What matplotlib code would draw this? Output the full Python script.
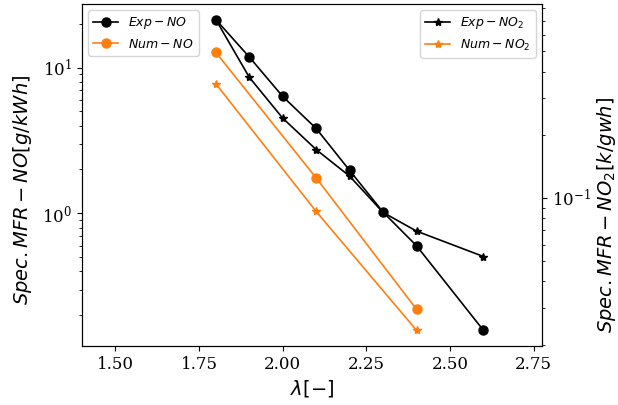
import matplotlib
matplotlib.use('Agg')
import matplotlib.pyplot as plt

plt.rcParams['font.family'] = 'serif'
plt.rcParams['mathtext.fontset'] = 'dejavusans'

# lambda values
lam_exp = [1.8, 1.9, 2.0, 2.1, 2.2, 2.3, 2.4, 2.6]
lam_num = [1.8, 2.1, 2.4]

# NO [g/kWh]
exp_no = [21.3, 11.8, 6.33, 3.82, 1.97, 1.02, 0.60, 0.158]
num_no = [12.7, 1.75, 0.22]

# NO2
exp_no2 = [0.708, 0.376, 0.240, 0.170, 0.127, 0.0853, 0.0695, 0.0526]
num_no2 = [0.350, 0.0862, 0.0234]

fig = plt.figure(figsize=(6.18, 4.05), dpi=100)
ax = fig.add_axes([0.1327, 0.146, 0.7443, 0.844])
ax2 = ax.twinx()

ax.plot(lam_exp, exp_no, color='black', marker='o', markersize=6.5, lw=1.2, label='$Exp - NO$')
ax.plot(lam_num, num_no, color='#ff7f0e', marker='o', markersize=6.5, lw=1.2, label='$Num - NO$')
ax2.plot(lam_exp, exp_no2, color='black', marker='*', markersize=6, lw=1.2, label='$Exp - NO_2$')
ax2.plot(lam_num, num_no2, color='#ff7f0e', marker='*', markersize=6, lw=1.2, label='$Num - NO_2$')

ax.set_yscale('log')
ax2.set_yscale('log')
ax.set_xlim(1.40, 2.775)
ax.set_xticks([1.5, 1.75, 2.0, 2.25, 2.5, 2.75])

ax.tick_params(labelsize=12)
ax2.tick_params(labelsize=12)

ax.set_xlabel(r'$\lambda[-]$', fontsize=14)
ax.set_ylabel('$Spec.MFR - NO[g/kWh]$', fontsize=14)
ax2.set_ylabel('$Spec.MFR - NO_2[k/gwh]$', fontsize=14)
ax.yaxis.set_label_coords(-0.105, 0.456)
ax2.yaxis.set_label_coords(1.115, 0.383)

ax.legend(loc='upper left', fontsize=9)
ax2.legend(loc='upper right', fontsize=9)

fig.savefig('out.png', dpi=100)
